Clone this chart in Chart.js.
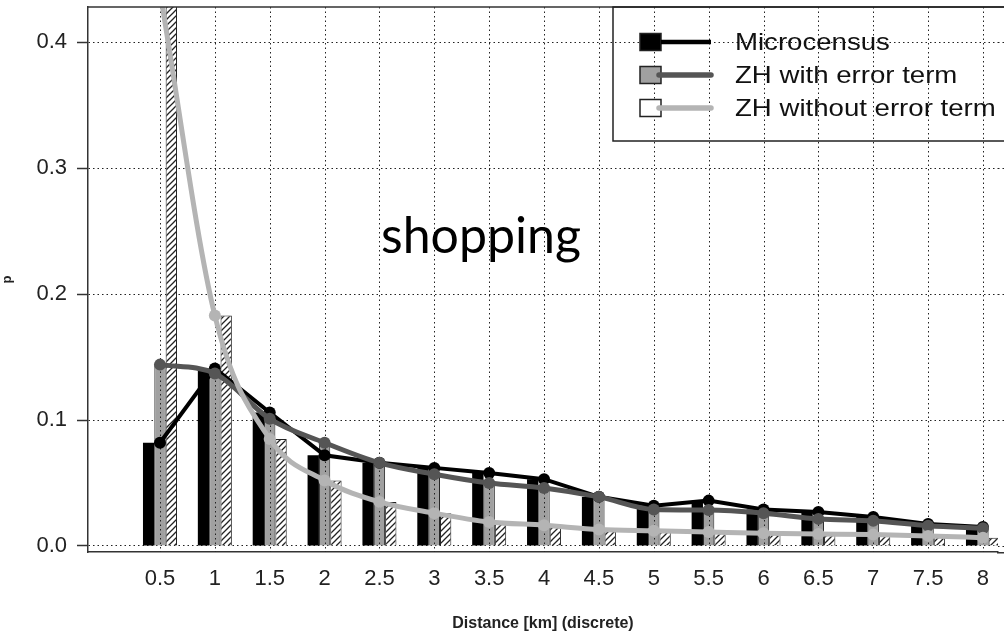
<!DOCTYPE html>
<html>
<head>
<meta charset="utf-8">
<script src="https://cdn.jsdelivr.net/npm/chart.js@4/dist/chart.umd.min.js"></script>
<style>
html, body { margin: 0; padding: 0; background: #fff; overflow: hidden; }
#wrap { width: 1004px; height: 638px; }
canvas { display: block; }
</style>
</head>
<body>
<div id="wrap"><canvas id="c" width="1004" height="638"></canvas></div>
<script>
// distance classes (km)
var distances = [0.5, 1, 1.5, 2, 2.5, 3, 3.5, 4, 4.5, 5, 5.5, 6, 6.5, 7, 7.5, 8];
var microcensus    = [0.082, 0.141, 0.106, 0.072, 0.066, 0.062, 0.058, 0.053, 0.039, 0.032, 0.036, 0.029, 0.027, 0.023, 0.0175, 0.015];
var zhWithError    = [0.144, 0.137, 0.101, 0.082, 0.066, 0.057, 0.050, 0.046, 0.039, 0.029, 0.0285, 0.026, 0.0215, 0.020, 0.016, 0.014];
var zhWithoutError = [0.44, 0.183, 0.085, 0.052, 0.035, 0.026, 0.019, 0.0165, 0.013, 0.012, 0.011, 0.010, 0.0095, 0.009, 0.008, 0.0065];
var yTicks = [0, 0.1, 0.2, 0.3, 0.4];
var seriesNames = ["Microcensus", "ZH with error term", "ZH without error term"];
var panelTitle = "shopping";
var xTitle = "Distance [km] (discrete)";
var yTitle = "p";

function pts(vals) {
    return distances.map(function (d, i) { return { x: d, y: vals[i] }; });
}

// diagonal hatching for the third bar series
function hatch() {
    var p = document.createElement("canvas");
    p.width = 6; p.height = 6;
    var g = p.getContext("2d");
    g.fillStyle = "#fff";
    g.fillRect(0, 0, 6, 6);
    g.strokeStyle = "#222";
    g.lineWidth = 1.3;
    g.beginPath();
    g.moveTo(-1, 7); g.lineTo(7, -1);
    g.moveTo(-1, 1); g.lineTo(1, -1);
    g.moveTo(5, 7); g.lineTo(7, 5);
    g.stroke();
    return g.createPattern(p, "repeat");
}

var barFill = ["#000", "#a0a0a0", hatch()];
var barEdge = ["#000", "#222", "#222"];
var lineColor = ["#000", "#555", "#b4b4b4"];
var lineWidth = [4, 5, 5];

// vertical dotted grid goes over the bars but under the lines
var barsDrawn = 0;
var overlay = {
    id: "overlay",
    beforeDatasetsDraw: function () { barsDrawn = 0; },
    afterDatasetDraw: function (chart, args) {
        if (args.meta.type !== "bar") return;
        barsDrawn++;
        if (barsDrawn < 3) return;
        var ctx = chart.ctx, a = chart.chartArea, xs = chart.scales.x;
        ctx.save();
        ctx.strokeStyle = "#222";
        ctx.lineWidth = 1;
        ctx.setLineDash([1.5, 3]);
        distances.forEach(function (d) {
            var x = Math.round(xs.getPixelForValue(d)) + 0.5;
            ctx.beginPath();
            ctx.moveTo(x, a.top);
            ctx.lineTo(x, a.bottom);
            ctx.stroke();
        });
        ctx.restore();
    },
    afterDatasetsDraw: function (chart) {
        // the plot runs on past the cropped right edge: keep that strip clean
        var ctx = chart.ctx, a = chart.chartArea, ys = chart.scales.y;
        if (chart.width - a.right < 1) return;
        ctx.save();
        ctx.fillStyle = "#fff";
        ctx.fillRect(a.right + 0.5, a.top + 1, chart.width - a.right, a.bottom - a.top - 1);
        ctx.strokeStyle = "#222";
        ctx.lineWidth = 1;
        ctx.setLineDash([1.5, 3]);
        yTicks.forEach(function (v) {
            var y = Math.round(ys.getPixelForValue(v)) + 0.5;
            ctx.beginPath();
            ctx.moveTo(a.right, y);
            ctx.lineTo(chart.width, y);
            ctx.stroke();
        });
        ctx.restore();
    },
    afterDraw: function (chart) {
        var ctx = chart.ctx, a = chart.chartArea;
        ctx.save();
        // frame top, and bottom axis carried on to the cropped edge
        ctx.strokeStyle = "#333";
        ctx.lineWidth = 1.5;
        ctx.beginPath();
        ctx.moveTo(a.left, a.top);
        ctx.lineTo(chart.width, a.top);
        ctx.moveTo(a.right - 1, a.bottom + 0.75);
        ctx.lineTo(chart.width, a.bottom + 0.75);
        ctx.stroke();

        // panel label
        ctx.fillStyle = "#000";
        ctx.font = "50px Lato";
        ctx.textAlign = "center";
        ctx.textBaseline = "alphabetic";
        ctx.fillText(panelTitle, 481, 253);

        // legend box
        var bx = 613, by = a.top, bw = 420, bh = 134;
        ctx.lineWidth = 1.5;
        ctx.strokeStyle = "#222";
        ctx.strokeRect(bx, by, bw, bh);
        var rows = [42, 75, 108];
        for (var i = 0; i < 3; i++) {
            var y = rows[i];
            ctx.fillStyle = i === 2 ? "#fff" : barFill[i];
            ctx.fillRect(640, y - 8.5, 21, 17);
            ctx.lineWidth = 1.5;
            ctx.strokeStyle = "#222";
            ctx.strokeRect(640, y - 8.5, 21, 17);
            ctx.strokeStyle = lineColor[i];
            ctx.lineWidth = lineWidth[i] + 0.5;
            ctx.lineCap = i === 0 ? "butt" : "round";
            ctx.beginPath();
            ctx.moveTo(i === 0 ? 661 : 659, y);
            ctx.lineTo(711, y);
            ctx.stroke();
            ctx.save();
            ctx.translate(735, y);
            ctx.scale(1.15, 1);
            ctx.fillStyle = "#111";
            ctx.font = "24px 'Liberation Sans', Arial";
            ctx.textAlign = "left";
            ctx.textBaseline = "middle";
            ctx.fillText(seriesNames[i], 0, 1);
            ctx.restore();
        }
        ctx.restore();
    }
};

var datasets = [];
[microcensus, zhWithError, zhWithoutError].forEach(function (vals, i) {
    datasets.push({
        type: "line",
        label: seriesNames[i],
        data: pts(vals),
        borderColor: lineColor[i],
        backgroundColor: lineColor[i],
        borderWidth: lineWidth[i],
        cubicInterpolationMode: i === 0 ? "default" : "monotone",
        tension: 0,
        pointRadius: 6,
        pointBorderWidth: 0,
        pointBackgroundColor: lineColor[i],
        order: 3 - i
    });
});
[microcensus, zhWithError, zhWithoutError].forEach(function (vals, i) {
    datasets.push({
        type: "bar",
        label: seriesNames[i] + " (bar)",
        data: pts(vals),
        backgroundColor: barFill[i],
        borderColor: barEdge[i],
        borderWidth: i === 0 ? 0 : 1,
        categoryPercentage: 0.62,
        barPercentage: 1.0,
        order: 10
    });
});

var tickFont = { family: "'Liberation Sans', Arial", size: 22 };

new Chart(document.getElementById("c").getContext("2d"), {
    type: "bar",
    data: { datasets: datasets },
    plugins: [overlay],
    options: {
        responsive: false,
        animation: false,
        devicePixelRatio: 1,
        layout: { padding: { top: 7, right: 0, left: 0, bottom: 0 } },
        plugins: {
            legend: { display: false },
            tooltip: { enabled: false }
        },
        scales: {
            x: {
                type: "linear",
                offset: false,
                min: -0.156,
                max: 8.137,
                afterBuildTicks: function (s) {
                    s.ticks = distances.map(function (d) { return { value: d }; });
                },
                afterFit: function (s) {
                    s.height = 86;
                    s.paddingLeft = 0; s.paddingRight = 0;
                },
                ticks: {
                    color: "#222",
                    font: tickFont,
                    padding: 14,
                    maxRotation: 0,
                    autoSkip: false,
                    callback: function (v) { return String(v); }
                },
                grid: { display: false, drawOnChartArea: false, drawTicks: false },
                border: { display: true, color: "#333", width: 1.5 },
                title: {
                    display: true,
                    text: xTitle,
                    color: "#222",
                    font: { family: "'Liberation Sans', Arial", size: 16, weight: "bold" },
                    padding: { top: 0, bottom: 5 }
                }
            },
            y: {
                min: -0.0048,
                max: 0.428,
                afterBuildTicks: function (s) {
                    s.ticks = yTicks.map(function (v) { return { value: v }; });
                },
                afterFit: function (s) {
                    s.width = 88;
                    s.paddingTop = 0; s.paddingBottom = 0;
                },
                ticks: {
                    color: "#222",
                    font: tickFont,
                    padding: 10,
                    callback: function (v) { return v.toFixed(1); }
                },
                grid: {
                    color: "#222",
                    lineWidth: 1,
                    tickLength: 11,
                    tickColor: "#333",
                    tickWidth: 1.5,
                    tickBorderDash: []
                },
                border: { display: true, color: "#333", width: 1.5, dash: [1.5, 3] },
                title: {
                    display: true,
                    text: yTitle,
                    color: "#222",
                    font: { family: "'Liberation Sans', Arial", size: 13, weight: "bold" },
                    padding: { top: 0, bottom: 0 }
                }
            }
        }
    }
});
</script>
</body>
</html>
